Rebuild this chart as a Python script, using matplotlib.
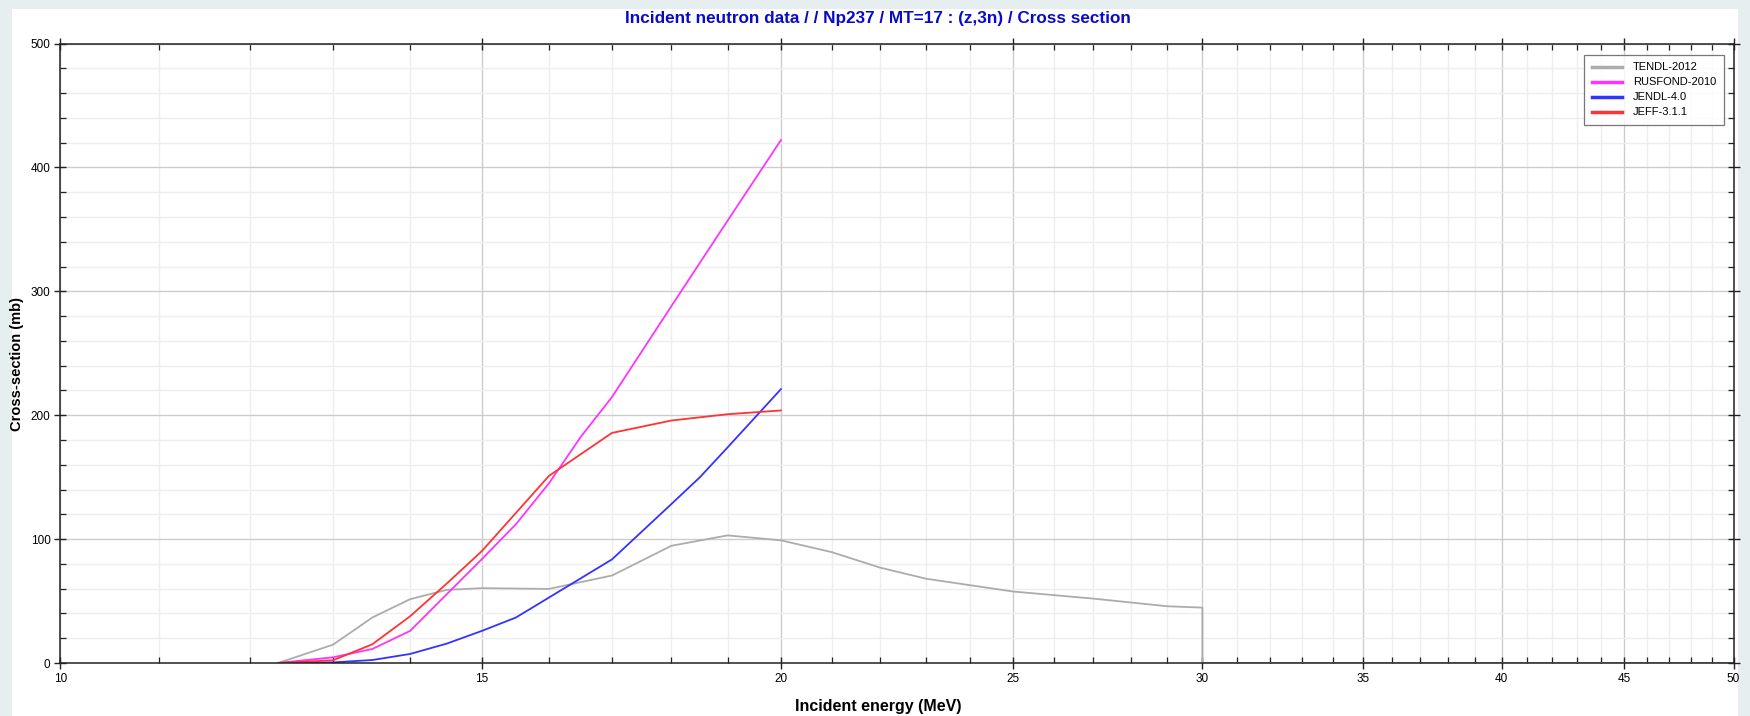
import matplotlib
matplotlib.use("Agg")
import matplotlib.pyplot as plt
import numpy as np
from matplotlib.ticker import FixedLocator, NullFormatter, MultipleLocator
from matplotlib.patches import Rectangle

plt.rcParams['font.family'] = ['Liberation Sans', 'DejaVu Sans']

# data (energy in MeV, cross-section in mb)
tendl_e = [12.33, 13.0, 13.5, 14.0, 14.5, 15.0, 16.0, 17.0, 18.0, 19.0, 20.0,
           21.0, 22.0, 23.0, 25.0, 27.0, 29.0, 30.0, 30.0, 60.0]
tendl_xs = [0, 14.8, 36.7, 51.5, 59, 60.4, 59.8, 70.6, 94.6, 103, 99,
            89.5, 77, 68, 57.7, 52, 45.8, 44.7, 0, 0]

rusfond_e = [12.33, 13.0, 13.5, 14.0, 15.0, 15.5, 16.0, 16.5, 17.0, 18.0, 19.0, 20.0]
rusfond_xs = [0, 4.6, 11.3, 25.9, 83.8, 112, 145, 182.7, 214.6, 288, 357, 422]

jendl_e = [12.33, 13.0, 13.5, 14.0, 14.5, 15.0, 15.5, 16.0, 17.0, 18.0, 18.5, 19.0, 20.0]
jendl_xs = [0, 0.5, 2.4, 7.3, 15.6, 25.9, 36.7, 52.8, 83.6, 128.3, 149.9, 174, 221]

jeff_e = [12.33, 13.0, 13.5, 14.0, 14.5, 15.0, 16.0, 17.0, 18.0, 19.0, 20.0]
jeff_xs = [0, 2.2, 15.1, 37.7, 64, 90.3, 151, 185.7, 195.7, 200.8, 203.8]

labels = ["TENDL-2012", "RUSFOND-2010", "JENDL-4.0", "JEFF-3.1.1"]
colors = ["#acacac", "#ff33ff", "#3333ff", "#ff3333"]

major_x = [10, 15, 20, 25, 30, 35, 40, 45, 50]
minor_x = [v for v in range(11, 50) if v not in major_x]

fig = plt.figure(figsize=(17.5, 7.16), dpi=100, facecolor="#e7eef0")
fig.patches.append(Rectangle((11.5 / 1750, 0), (1738 - 11.5) / 1750, 1 - 8.5 / 716,
                             transform=fig.transFigure, facecolor="white",
                             edgecolor="none", zorder=-5))

ax = fig.add_axes([60.3 / 1750, 53 / 716, (1733.5 - 60.3) / 1750, (663 - 43.5) / 716])
ax.set_zorder(2)
ax.set_facecolor("white")

series = [(tendl_e, tendl_xs), (rusfond_e, rusfond_xs), (jendl_e, jendl_xs), (jeff_e, jeff_xs)]
for (e, xs), lab, c in zip(series, labels, colors):
    ax.plot(e, xs, color=c, lw=1.3, label=lab, clip_on=True)

ax.set_xscale("log")
ax.set_xlim(10, 50)
ax.set_ylim(0, 500)
ax.xaxis.set_major_locator(FixedLocator(major_x))
ax.xaxis.set_minor_locator(FixedLocator(minor_x))
ax.xaxis.set_minor_formatter(NullFormatter())
ax.set_xticklabels([str(v) for v in major_x])
ax.yaxis.set_major_locator(MultipleLocator(100))
ax.yaxis.set_minor_locator(MultipleLocator(20))

ax.grid(which="major", color="#cccccc", lw=1.0)
ax.grid(which="minor", color="#eeeeee", lw=1.0)
ax.set_axisbelow(True)

ax.tick_params(which="major", direction="inout", length=8, width=1.0, labelsize=8.5,
               top=True, right=True, color="#222222", pad=3)
ax.tick_params(which="minor", direction="in", length=4, width=0.9,
               top=True, right=True, color="#222222")
for s in ax.spines.values():
    s.set_color("#222222")
    s.set_linewidth(1.1)

fig.text(878 / 1750, 1 - 18 / 716, "Incident neutron data / / Np237 / MT=17 : (z,3n) / Cross section",
         ha="center", va="center", color="#0a0acc", fontsize=12.3, fontweight="bold")
fig.text(878 / 1750, 1 - 706 / 716, "Incident energy (MeV)", ha="center", va="center",
         fontsize=11.5, fontweight="bold")
fig.text(17.5 / 1750, 1 - 364 / 716, "Cross-section (mb)", ha="center", va="center",
         rotation=90, fontsize=10.5, fontweight="bold")

leg = ax.legend(loc="upper right", bbox_to_anchor=(0.9943, 0.982), borderaxespad=0,
                fontsize=8, frameon=True, fancybox=False, edgecolor="#555555",
                handlelength=2.7, handletextpad=1.0, borderpad=0.7, labelspacing=0.45)
leg.get_frame().set_linewidth(0.9)
for h in leg.get_lines():
    h.set_linewidth(2.5)

fig.savefig("out.png", dpi=100, facecolor=fig.get_facecolor())
